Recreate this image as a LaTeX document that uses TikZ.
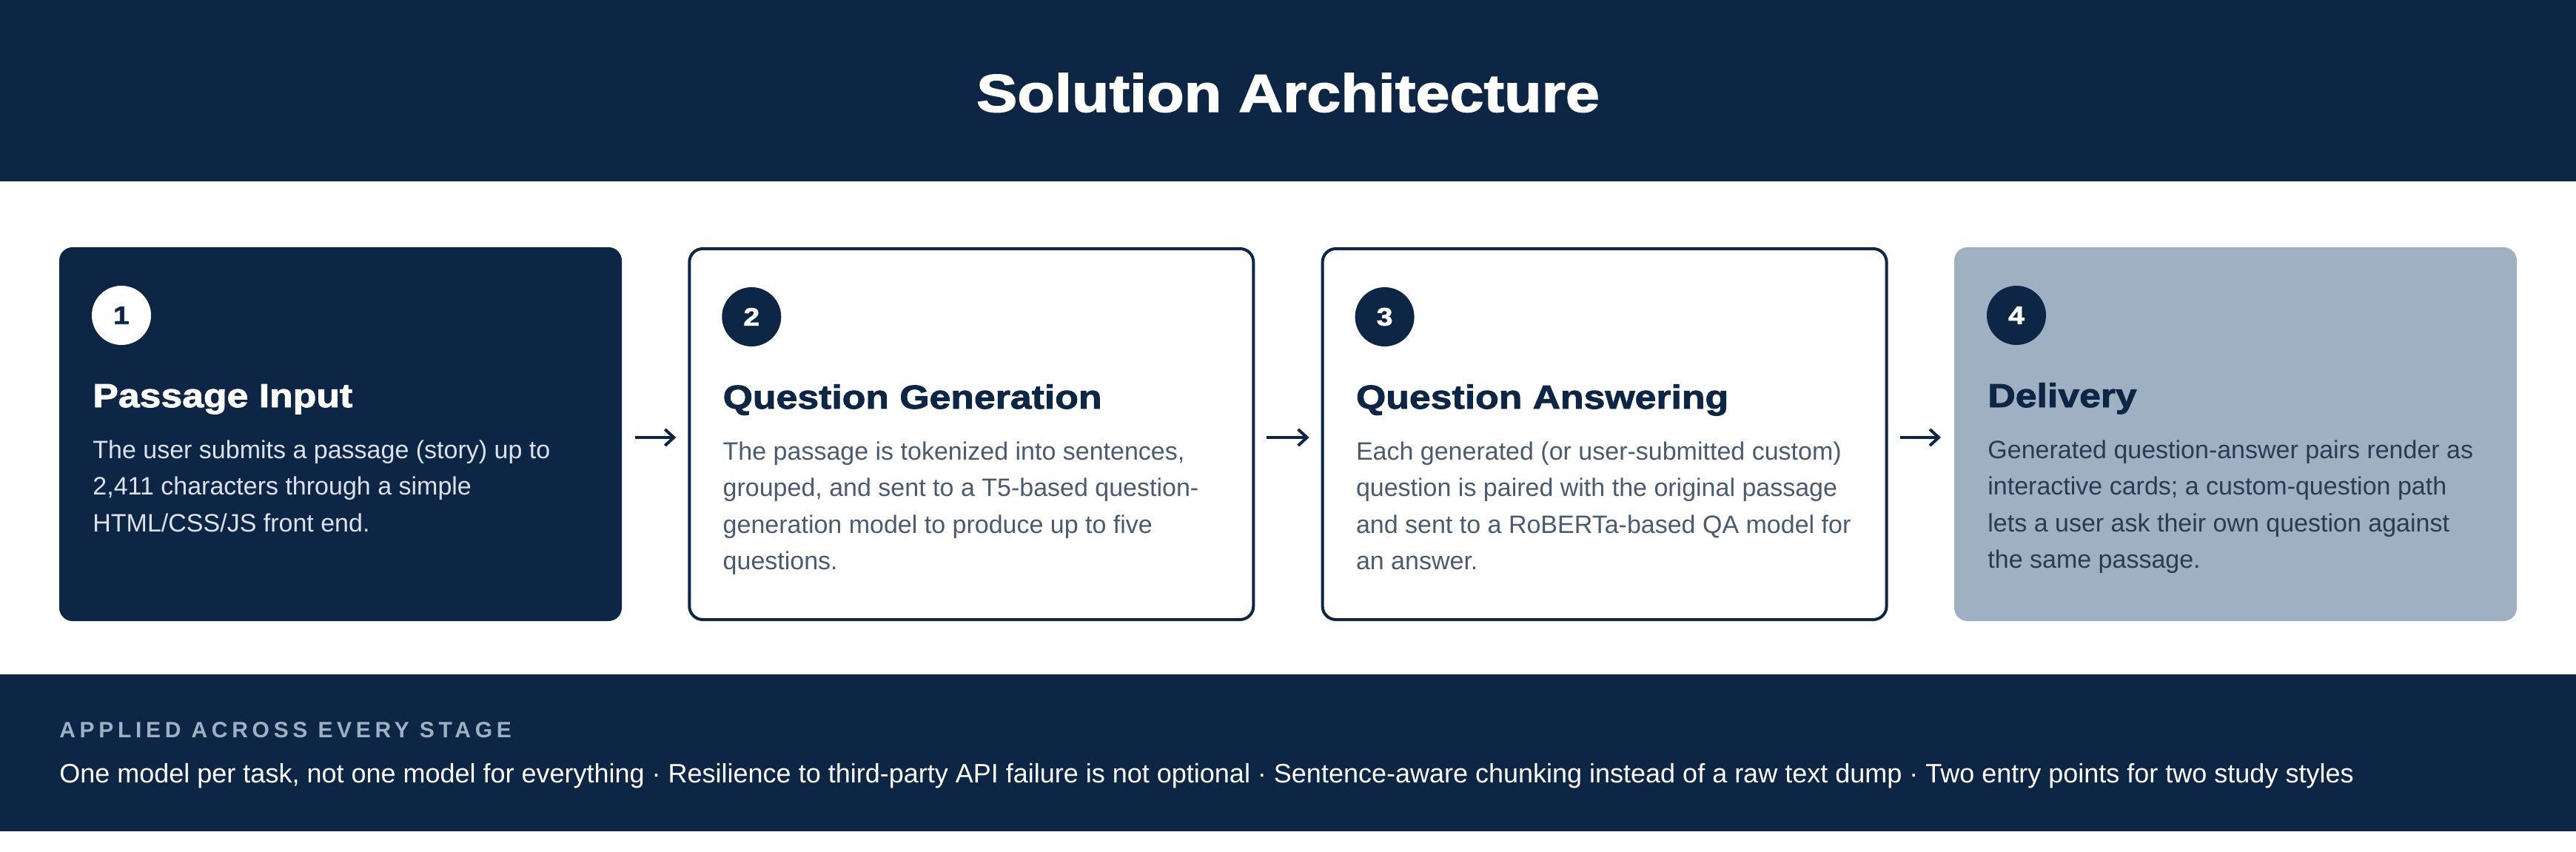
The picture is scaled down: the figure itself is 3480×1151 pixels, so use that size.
\documentclass[tikz,border=0pt]{standalone}
\usepackage{fontspec}
\setmainfont{Liberation Sans}
\newfontfamily\hfont{Liberation Sans Bold}[FakeStretch=1.15,FakeBold=2]
\newfontfamily\lfont{Liberation Sans Bold}[LetterSpace=19]
\usetikzlibrary{arrows.meta,calc}
\definecolor{navy}{HTML}{0E2646}
\definecolor{steel}{HTML}{9EB0C2}
\definecolor{slate}{HTML}{4A5A70}
\definecolor{pale}{HTML}{DCE2E9}
\definecolor{deep}{HTML}{2A3B52}
\definecolor{labelc}{HTML}{9DB0C4}
\begin{document}
\begin{tikzpicture}[x=0.5pt,y=-0.5pt,
 card/.style={rounded corners=9pt, minimum width=380pt, minimum height=252.5pt, inner sep=0pt, outer sep=0pt},
 darkcard/.style={card, fill=navy},
 linecard/.style={card, draw=navy, line width=2pt, fill=white, minimum width=381pt, minimum height=250.5pt},
 steelcard/.style={card, fill=steel},
 badge/.style={circle, minimum size=40pt, inner sep=0pt, font=\hfont\fontsize{17}{17}\selectfont},
 heading/.style={anchor=base west, inner sep=0pt, font=\hfont\fontsize{22.5}{27}\selectfont},
 body/.style={anchor=base west, inner sep=0pt, align=left, font=\fontsize{17}{24.75}\selectfont},
 flow/.style={draw=navy, line width=2pt, -{Straight Barb[length=6pt,width=11pt]}, shorten <=9pt, shorten >=9pt}
]
\fill[white] (0,0) rectangle (3480,1151);
\useasboundingbox (0,0) rectangle (3480,1151);
% header
\fill[navy] (0,0) rectangle (3480,245);
\node[anchor=base, text=white, inner sep=0pt, font=\hfont\fontsize{36}{40}\selectfont] (title) at (1740,151) {Solution Architecture};
% cards
\node[darkcard] (b1) at (460,586.5) {};
\node[linecard] (b2) at (1312.3,586.5) {};
\node[linecard] (b3) at (2167.6,586.5) {};
\node[steelcard] (b4) at (3020,586.5) {};
% badges
\node[badge, fill=white, text=navy] (n1) at ([shift={(84,92)}]b1.north west) {1};
\node[badge, fill=navy, text=white] (n2) at ([shift={(84,92)}]b2.north west) {2};
\node[badge, fill=navy, text=white] (n3) at ([shift={(84,92)}]b3.north west) {3};
\node[badge, fill=navy, text=white] (n4) at ([shift={(84,92)}]b4.north west) {4};
% headings
\node[heading, text=white] (h1) at ([shift={(45,216)}]b1.north west) {Passage Input};
\node[heading, text=navy] (h2) at ([shift={(45,216)}]b2.north west) {Question Generation};
\node[heading, text=navy] (h3) at ([shift={(45,216)}]b3.north west) {Question Answering};
\node[heading, text=navy] (h4) at ([shift={(45,216)}]b4.north west) {Delivery};
% bodies (anchored at the baseline of their last line)
\node[body, text=pale] (t1) at ([shift={(45,384)}]b1.north west) {The user submits a passage (story) up to\\2,411 characters through a simple\\HTML/CSS/JS front end.};
\node[body, text=slate] (t2) at ([shift={(45,433.5)}]b2.north west) {The passage is tokenized into sentences,\\grouped, and sent to a T5-based question-\\generation model to produce up to five\\questions.};
\node[body, text=slate] (t3) at ([shift={(45,433.5)}]b3.north west) {Each generated (or user-submitted custom)\\question is paired with the original passage\\and sent to a RoBERTa-based QA model for\\an answer.};
\node[body, text=deep] (t4) at ([shift={(45,433.5)}]b4.north west) {Generated question-answer pairs render as\\interactive cards; a custom-question path\\lets a user ask their own question against\\the same passage.};
% connectors
\draw[flow] ([yshift=-2.25pt]b1.east) -- ([yshift=-2.25pt]b2.west);
\draw[flow] ([yshift=-2.25pt]b2.east) -- ([yshift=-2.25pt]b3.west);
\draw[flow] ([yshift=-2.25pt]b3.east) -- ([yshift=-2.25pt]b4.west);
% footer
\fill[navy] (0,911) rectangle (3480,1123);
\node[anchor=base west, text=labelc, inner sep=0pt, font=\lfont\fontsize{15}{18}\selectfont] (lbl) at (80,996) {APPLIED ACROSS EVERY STAGE};
\node[anchor=base west, text=white, inner sep=0pt, font=\fontsize{18}{22}\selectfont] (prin) at (80,1057) {One model per task, not one model for everything · Resilience to third-party API failure is not optional · Sentence-aware chunking instead of a raw text dump · Two entry points for two study styles};
\end{tikzpicture}
\end{document}
